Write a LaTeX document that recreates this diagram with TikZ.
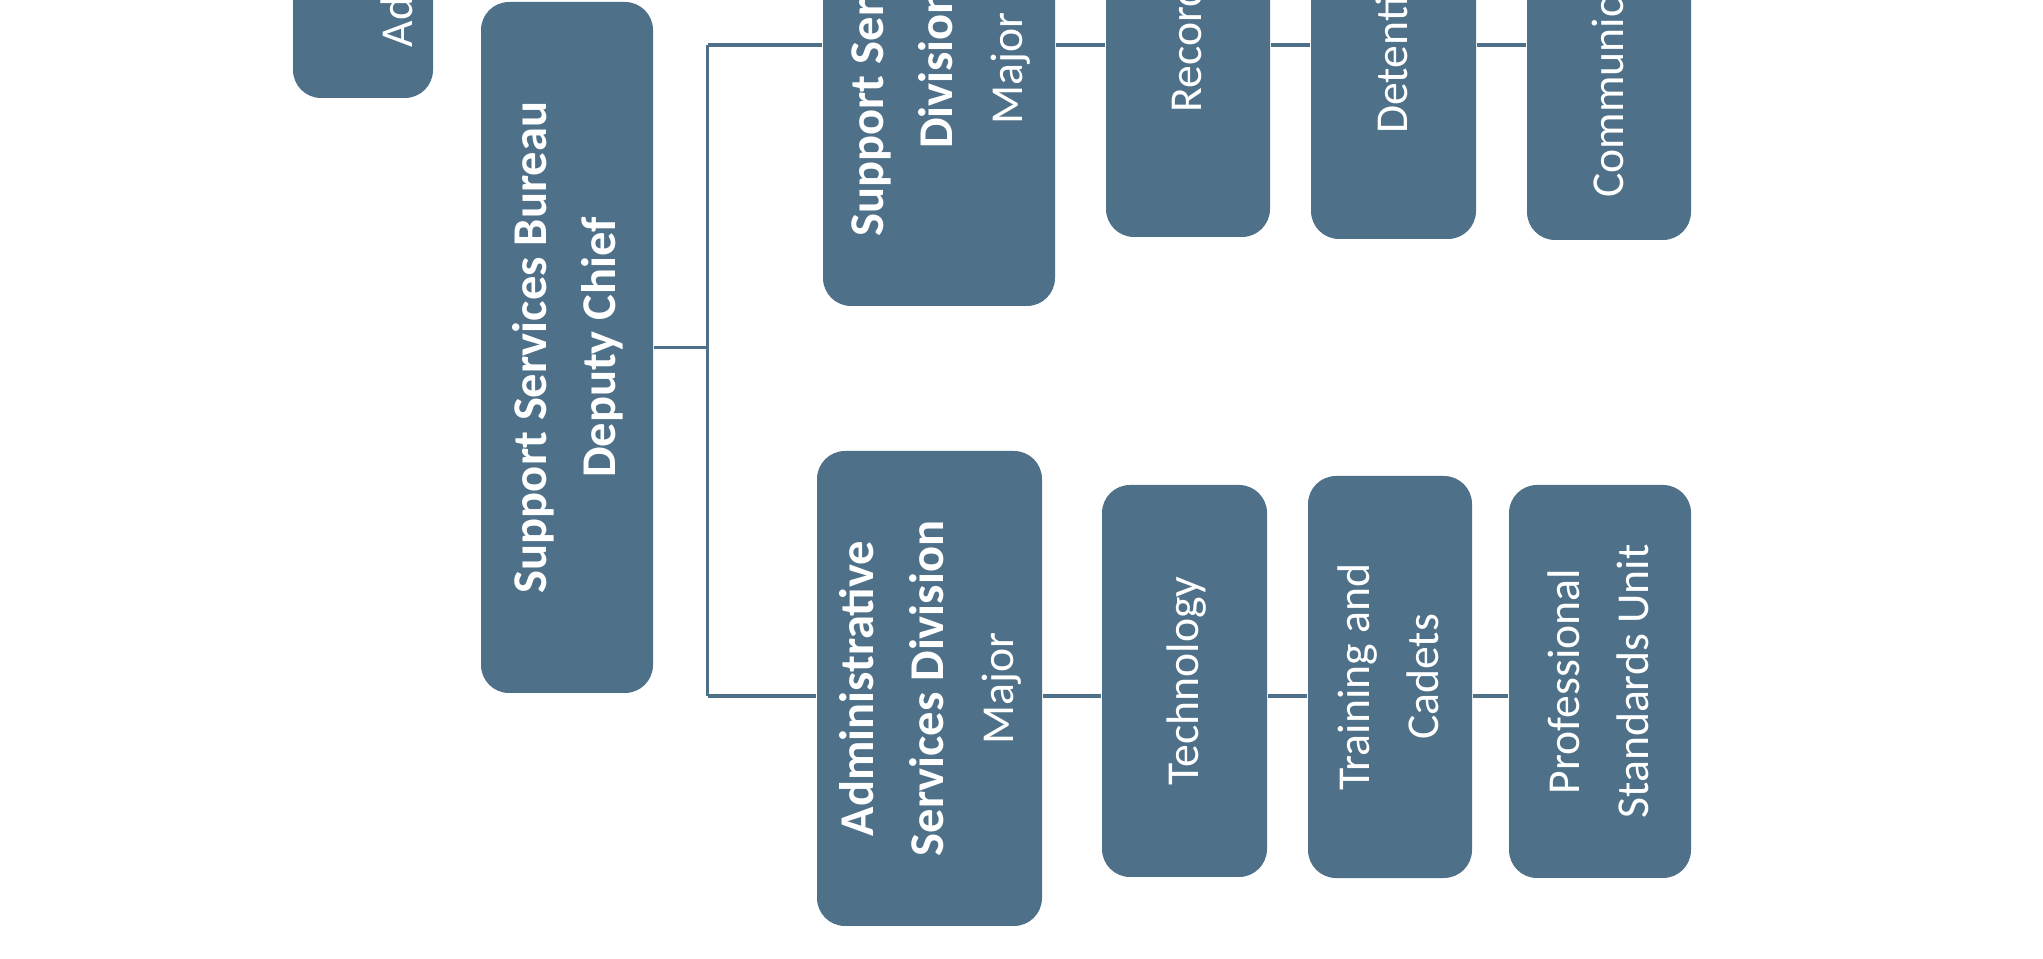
\documentclass[tikz,border=0pt]{standalone}
\usepackage{fontspec}
\setmainfont{Carlito}
\usepackage{graphicx}
\usepackage{tikz}
\usetikzlibrary{calc}

\definecolor{boxblue}{RGB}{78,113,137}
\newcommand{\uprot}[1]{\rotatebox{90}{\begin{tabular}{@{}c@{}}#1\end{tabular}}}
\newcommand{\hd}{\fontsize{13.8pt}{19.9pt}\selectfont\bfseries}

\begin{document}
\begin{tikzpicture}[
    every node/.style={font=\fontsize{13pt}{19.9pt}\selectfont},
    unit/.style={fill=boxblue, rounded corners=0.28cm, inner sep=0pt, text=white},
    link/.style={draw=boxblue, line width=1pt},
  ]
  \useasboundingbox (0,0) rectangle (20.43,9.58);
  \clip (0,0) rectangle (20.43,9.58);

  % Box cut off at the top left
  \node[unit, minimum width=1.40cm, minimum height=4cm] (adm) at (3.63,10.60) {};
  \node[rotate=90, anchor=west, inner sep=0pt, text=white] (admtxt) at (3.97,9.10) {Ad};

  % Bureau
  \node[unit, minimum width=1.72cm, minimum height=6.91cm] (ssb) at (5.67,6.105)
    {\uprot{\hd Support Services Bureau\\\hd Deputy Chief}};

  % Divisions
  \node[unit, minimum width=2.32cm, minimum height=4.75cm] (ssd) at (9.39,8.895)
    {\uprot{\hd Support Services\\\hd Division\\Major}};
  \node[unit, minimum width=2.25cm, minimum height=4.75cm] (asd) at (9.295,2.695)
    {\uprot{\hd Administrative\\\hd Services Division\\Major}};

  % Units, upper row
  \node[unit, minimum width=1.64cm, minimum height=3.96cm] (rec) at (11.88,9.19) {\uprot{Records}};
  \node[unit, minimum width=1.65cm, minimum height=3.96cm] (det) at (13.935,9.17) {\uprot{Detention}};
  \node[unit, minimum width=1.64cm, minimum height=3.96cm] (com) at (16.09,9.16) {\uprot{Communications}};

  % Units, lower row
  \node[unit, minimum width=1.65cm, minimum height=3.92cm] (tec) at (11.845,2.77) {\uprot{Technology}};
  \node[unit, minimum width=1.64cm, minimum height=4.02cm] (trn) at (13.90,2.81) {\uprot{Training and\\Cadets}};
  \node[unit, minimum width=1.82cm, minimum height=3.93cm] (psu) at (16.00,2.765) {\uprot{Professional\\Standards Unit}};

  % Connectors
  \coordinate (topbus) at (7.075,9.13);
  \coordinate (lowbus) at (7.075,2.62);
  \draw[link] (ssb.east) -- (ssb.east -| topbus);
  \draw[link] (topbus) -- (lowbus);
  \draw[link] (topbus) -- (topbus -| ssd.west);
  \draw[link] (lowbus) -- (lowbus -| asd.west);
  \draw[link] (ssd.east |- topbus) -- (rec.west |- topbus);
  \draw[link] (rec.east |- topbus) -- (det.west |- topbus);
  \draw[link] (det.east |- topbus) -- (com.west |- topbus);
  \draw[link] (asd.east |- lowbus) -- (tec.west |- lowbus);
  \draw[link] (tec.east |- lowbus) -- (trn.west |- lowbus);
  \draw[link] (trn.east |- lowbus) -- (psu.west |- lowbus);
\end{tikzpicture}
\end{document}
